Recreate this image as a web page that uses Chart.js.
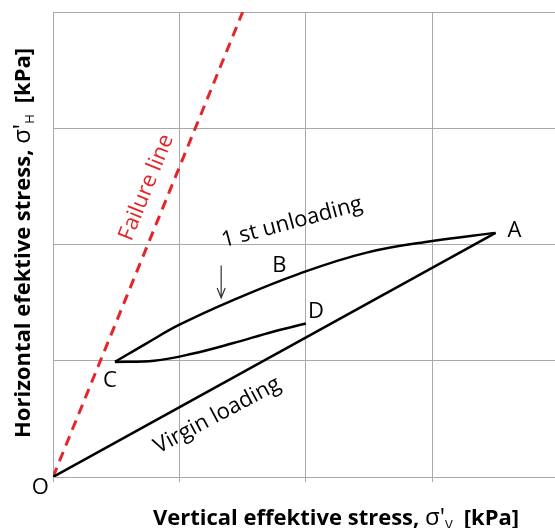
<!DOCTYPE html>
<html>
<head>
<meta charset="utf-8">
<script src="https://cdn.jsdelivr.net/npm/chart.js@4.4.1/dist/chart.umd.min.js"></script>
<style>
  html, body { margin: 0; padding: 0; background: #fff; }
  #chart { display: block; }
</style>
</head>
<body>
<canvas id="chart" width="555" height="528"></canvas>
<script>
// ---- data (stress path, kPa units) ----
const virginX = [0, 3.5];
const virginY = [0, 2.1];

const unloadX = [0.49, 0.74, 1.0, 1.42, 1.95, 2.48, 3.0, 3.5];
const unloadY = [0.99, 1.15, 1.31, 1.52, 1.75, 1.93, 2.03, 2.1];

const reloadX = [0.49, 0.8, 1.1, 1.42, 1.74, 2.0];
const reloadY = [0.99, 1.0, 1.06, 1.15, 1.25, 1.32];

const failureX = [0, 1.5];
const failureY = [0, 4];

const gridTicks = [0, 1, 2, 3, 4];

// point letters and their anchor in data units
const letterText = ['A', 'B', 'C', 'D', 'O'];
const letterX = [3.65, 1.79, 0.45, 2.08, -0.1];
const letterY = [2.12, 1.82, 0.83, 1.42, -0.09];

// rotated notes
const noteText = ['1 st unloading', 'Virgin loading', 'Failure line'];
const noteX = [1.89, 1.30, 0.74];
const noteY = [2.19, 0.53, 2.49];

// small arrow pointing at the unloading branch
const arrowX = [1.33, 1.33];
const arrowY = [1.82, 1.54];

function toPoints(xs, ys) {
  return xs.map((x, i) => ({ x: x, y: ys[i] }));
}

const FONT = '"Open Sans", Lato, sans-serif';
const GRID = '#a9a9a9';

const notesStyle = [
  { angle: -15, color: '#000' },
  { angle: -28, color: '#000' },
  { angle: -68, color: '#e3262a' }
];

// ---- custom drawing: labels, arrow and axis titles ----
const annotations = {
  id: 'annotations',
  afterDatasetsDraw(chart) {
    const ctx = chart.ctx;
    const xs = chart.scales.x;
    const ys = chart.scales.y;

    ctx.save();
    ctx.textAlign = 'center';
    ctx.textBaseline = 'middle';

    // letters
    ctx.fillStyle = '#000';
    ctx.font = '22px ' + FONT;
    letterText.forEach((t, i) => {
      ctx.fillText(t, xs.getPixelForValue(letterX[i]), ys.getPixelForValue(letterY[i]));
    });

    // rotated notes
    noteText.forEach((t, i) => {
      const st = notesStyle[i];
      ctx.save();
      ctx.translate(xs.getPixelForValue(noteX[i]), ys.getPixelForValue(noteY[i]));
      ctx.rotate(st.angle * Math.PI / 180);
      ctx.fillStyle = st.color;
      ctx.font = '22px ' + FONT;
      ctx.fillText(t, 0, 0);
      ctx.restore();
    });

    // arrow
    const ax0 = xs.getPixelForValue(arrowX[0]), ay0 = ys.getPixelForValue(arrowY[0]);
    const ax1 = xs.getPixelForValue(arrowX[1]), ay1 = ys.getPixelForValue(arrowY[1]);
    ctx.strokeStyle = '#333';
    ctx.lineWidth = 1.2;
    ctx.beginPath();
    ctx.moveTo(ax0, ay0);
    ctx.lineTo(ax1, ay1);
    ctx.moveTo(ax1 - 4, ay1 - 10);
    ctx.lineTo(ax1, ay1);
    ctx.lineTo(ax1 + 4, ay1 - 10);
    ctx.stroke();

    // axis titles with subscripts
    drawTitle(ctx, 336, 517, 0, 'Vertical effektive stress, ', 'V');
    drawTitle(ctx, 22, 243, -Math.PI / 2, 'Horizontal efektive stress, ', 'H');

    ctx.restore();
  }
};

function drawTitle(ctx, cx, cy, rot, main, sub) {
  const bold = 'bold 22px ' + FONT;
  const plain = '24px ' + FONT;
  const small = '13px ' + FONT;
  const tail = '[kPa]';
  ctx.save();
  ctx.translate(cx, cy);
  ctx.rotate(rot);
  ctx.textAlign = 'left';
  ctx.textBaseline = 'alphabetic';
  ctx.font = bold;  const w1 = ctx.measureText(main).width;
  ctx.font = plain; const w2 = ctx.measureText("σ'").width;
  ctx.font = small; const w3 = ctx.measureText(sub).width;
  ctx.font = bold;  const w4 = ctx.measureText(tail).width;
  const gap = 11;
  let x = -(w1 + w2 + w3 + gap + w4) / 2;
  const base = 8;
  ctx.fillStyle = '#000';
  ctx.font = bold;  ctx.fillText(main, x, base); x += w1;
  ctx.font = plain; ctx.fillText("σ'", x, base); x += w2;
  ctx.font = small; ctx.fillText(sub, x, base + 4); x += w3 + gap;
  ctx.font = bold;  ctx.fillText(tail, x, base);
  ctx.restore();
}

new Chart(document.getElementById('chart'), {
  type: 'scatter',
  data: {
    datasets: [
      {
        label: 'Virgin loading',
        data: toPoints(virginX, virginY),
        showLine: true, borderColor: '#000', borderWidth: 2.5,
        pointRadius: 0
      },
      {
        label: '1 st unloading',
        data: toPoints(unloadX, unloadY),
        showLine: true, borderColor: '#000', borderWidth: 2.5,
        pointRadius: 0, tension: 0.4
      },
      {
        label: 'Reloading',
        data: toPoints(reloadX, reloadY),
        showLine: true, borderColor: '#000', borderWidth: 2.5,
        pointRadius: 0, tension: 0.4
      },
      {
        label: 'Failure line',
        data: toPoints(failureX, failureY),
        showLine: true, borderColor: '#e3262a', borderWidth: 3,
        borderDash: [10, 7], pointRadius: 0
      }
    ]
  },
  options: {
    responsive: false,
    devicePixelRatio: 1,
    animation: false,
    layout: { padding: { left: 53, top: 12, right: 0, bottom: 46 } },
    plugins: { legend: { display: false }, tooltip: { enabled: false } },
    scales: {
      x: {
        type: 'linear', min: 0, max: 3.97,
        afterBuildTicks: s => { s.ticks = gridTicks.filter(v => v <= s.max).map(v => ({ value: v })); },
        ticks: { display: false },
        grid: { color: GRID, lineWidth: 1, drawTicks: true, tickLength: 5, tickColor: GRID },
        border: { display: true, color: GRID }
      },
      y: {
        type: 'linear', min: 0, max: 4,
        afterBuildTicks: s => { s.ticks = gridTicks.map(v => ({ value: v })); },
        ticks: { display: false },
        grid: { color: GRID, lineWidth: 1, drawTicks: false },
        border: { display: true, color: GRID }
      }
    }
  },
  plugins: [annotations]
});
</script>
</body>
</html>
